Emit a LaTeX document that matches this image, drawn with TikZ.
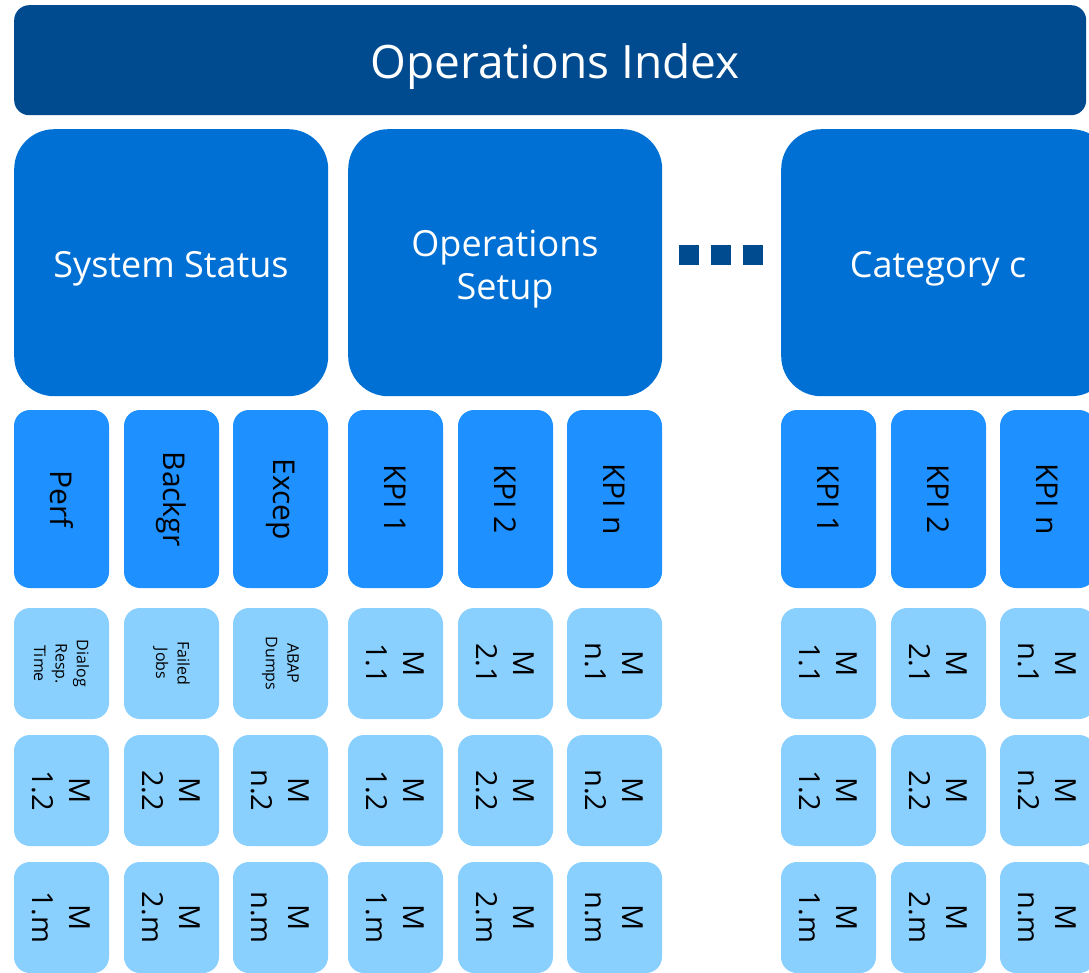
\documentclass[tikz,border=0pt]{standalone}
\usepackage{fontspec}
\setmainfont{Open Sans}
\definecolor{topblue}{HTML}{004A8F}
\definecolor{catblue}{HTML}{0070D4}
\definecolor{kpiblue}{HTML}{1E90FF}
\definecolor{metblue}{HTML}{8AD0FF}
\tikzset{
  topbar/.style={fill=topblue, rounded corners=15pt},
  toptxt/.style={text=white, font=\fontsize{46}{52}\selectfont},
  catbox/.style={fill=catblue, rounded corners=40pt, minimum height=267pt},
  cattxt/.style={text=white, align=center, font=\fontsize{36}{43}\selectfont},
  kpibox/.style={fill=kpiblue, rounded corners=16pt, text=black, rotate=-90, minimum width=178pt, minimum height=95pt, inner sep=0pt, font=\fontsize{30}{34}\selectfont},
  metbox/.style={fill=metblue, rounded corners=16pt, text=black, rotate=-90, align=center, minimum width=111pt, minimum height=95pt, inner sep=0pt, font=\fontsize{29}{37}\selectfont},
  smalltxt/.style={font=\fontsize{16}{21.5}\selectfont},
  dotsq/.style={fill=topblue, minimum size=20pt, inner sep=0pt},
}
\begin{document}
\begin{tikzpicture}[x=1pt,y=-1pt]
\useasboundingbox (0,0) rectangle (1089,972);
\clip (0,0) rectangle (1089,972);
\node[topbar, minimum width=1072pt, minimum height=110pt, anchor=north west, inner sep=0pt] (top) at (14,5) {};
\node[toptxt] (toptxt) at (555,67) {Operations Index};

\node[catbox, minimum width=314pt, anchor=north west] (c1) at (14,129) {};
\node[catbox, minimum width=314pt, anchor=north west] (c2) at (348,129) {};
\node[catbox, minimum width=330pt, anchor=north west] (c3) at (781,129) {};
\node[cattxt] (c1t) at (171,269) {System Status};
\node[cattxt] (c2t) at (505,269) {Operations\\Setup};
\node[cattxt] (c3t) at (938,269) {Category c};

\node[dotsq] (d1) at (689,255) {};
\node[dotsq] (d2) at (721,255) {};
\node[dotsq] (d3) at (753,255) {};

% KPI row
\foreach \x/\t [count=\i] in {14/Perf,124/Backgr,233/Excep,348/KPI 1,458/KPI 2,567/KPI n,781/KPI 1,891/KPI 2,1000/KPI n}{
  \node[kpibox] (k\i) at (\x+47.5,499) {\t};
}
% metrics row 1
\node[metbox, smalltxt] (m11) at (61.5,663.5) {Dialog\\Resp.\\Time};
\node[metbox, smalltxt] (m21) at (171.5,663.5) {Failed\\Jobs};
\node[metbox, smalltxt] (m31) at (280.5,663.5) {ABAP\\Dumps};
\foreach \x/\t [count=\i from 4] in {348/1.1,458/2.1,567/n.1,781/1.1,891/2.1,1000/n.1}{
  \node[metbox] (m\i1) at (\x+47.5,663.5) {M\\\t};
}
\foreach \x/\t [count=\i] in {14/1.2,124/2.2,233/n.2,348/1.2,458/2.2,567/n.2,781/1.2,891/2.2,1000/n.2}{
  \node[metbox] (m\i2) at (\x+47.5,790.5) {M\\\t};
}
\foreach \x/\t [count=\i] in {14/1.m,124/2.m,233/n.m,348/1.m,458/2.m,567/n.m,781/1.m,891/2.m,1000/n.m}{
  \node[metbox] (m\i3) at (\x+47.5,917.5) {M\\\t};
}
\end{tikzpicture}
\end{document}
